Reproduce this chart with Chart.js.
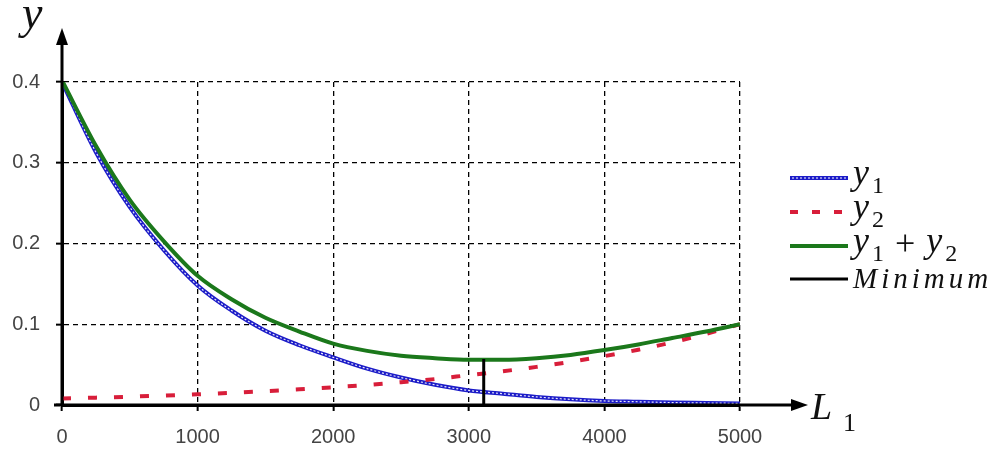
<!DOCTYPE html>
<html>
<head>
<meta charset="utf-8">
<script src="https://cdn.jsdelivr.net/npm/chart.js@4/dist/chart.umd.min.js"></script>
<style>
html,body{margin:0;padding:0;background:#fff;}
#wrap{width:1005px;height:452px;position:relative;}
</style>
</head>
<body>
<div id="wrap"><canvas id="c" width="1005" height="452"></canvas></div>
<script>
// ---- data ----
const L = [0,250,500,750,1000,1250,1500,1750,2000,2250,2500,2750,3000,3250,3500,3750,4000,4250,4500,4750,5000];
const y1 = [0.400,0.313,0.245,0.192,0.148,0.117,0.092,0.074,0.059,0.045,0.034,0.025,0.018,0.014,0.010,0.007,0.005,0.004,0.003,0.0025,0.002];
const y2 = [0.008,0.0091,0.0103,0.0117,0.0133,0.0150,0.0171,0.0194,0.0220,0.0249,0.0283,0.0321,0.0370,0.0418,0.0472,0.0535,0.0605,0.0684,0.0776,0.0881,0.100];
const ySum = [0.402,0.321,0.254,0.203,0.160,0.131,0.108,0.091,0.076,0.067,0.061,0.058,0.056,0.056,0.058,0.062,0.068,0.075,0.083,0.091,0.100];
const minL = [3110,3110];
const minY = [0,0.057];
const xTicks = [0,1000,2000,3000,4000,5000];
const yTicks = [0,0.1,0.2,0.3,0.4];
const legendMain = ['y','y','y','Minimum'];
const legendSubs = [['1'],['2'],['1','+','2'],[]];
const axisLabelX = ['L','1'];
const axisLabelY = 'y';

const pts = (xs, ys) => xs.map((x,i)=>({x:x,y:ys[i]}));

const BLUE = '#1c1cc8';
const RED = '#d81e3a';
const GREEN = '#1b781b';
const SERIF = '"Liberation Serif", "Times New Roman", serif';

const decorations = {
  id:'decorations',
  afterDraw(chart){
    const ctx = chart.ctx;
    const xs = chart.scales.x, ys = chart.scales.y;
    const ox = xs.getPixelForValue(0), oy = ys.getPixelForValue(0);
    ctx.save();
    ctx.strokeStyle = '#000'; ctx.fillStyle = '#000';
    ctx.lineWidth = 3; ctx.setLineDash([]);
    // y axis with arrow
    ctx.beginPath(); ctx.moveTo(ox, oy+1); ctx.lineTo(ox, 42); ctx.stroke();
    ctx.beginPath(); ctx.moveTo(ox, 28); ctx.lineTo(ox-6, 45); ctx.lineTo(ox+6, 45); ctx.closePath(); ctx.fill();
    // x axis with arrow
    ctx.beginPath(); ctx.moveTo(ox-8, oy); ctx.lineTo(794, oy); ctx.stroke();
    ctx.beginPath(); ctx.moveTo(808, oy); ctx.lineTo(791, oy-6); ctx.lineTo(791, oy+6); ctx.closePath(); ctx.fill();
    // axis labels
    ctx.textBaseline = 'alphabetic';
    ctx.textAlign = 'left';
    ctx.fillStyle = '#111';
    ctx.font = 'italic 46px ' + SERIF;
    ctx.fillText(axisLabelY, 22, 28);
    ctx.font = 'italic 38px ' + SERIF;
    ctx.fillText(axisLabelX[0], 811, 419);
    ctx.font = '26px ' + SERIF;
    ctx.fillText(axisLabelX[1], 843, 431);

    // legend
    const rows = [178, 212, 246, 279];
    const ds = chart.data.datasets.filter(d=>!d.hideLegend);
    ds.forEach((d,i)=>{
      const yy = rows[i];
      ctx.save();
      ctx.strokeStyle = d.borderColor;
      ctx.lineWidth = d.legendWidth || d.borderWidth;
      ctx.setLineDash(d.legendDash || []);
      ctx.beginPath(); ctx.moveTo(790, yy); ctx.lineTo(848, yy); ctx.stroke();
      if (d.legendOverlay){
        ctx.strokeStyle = '#fff'; ctx.lineWidth = 1.2; ctx.setLineDash([2,2]);
        ctx.beginPath(); ctx.moveTo(792, yy); ctx.lineTo(846, yy); ctx.stroke();
      }
      ctx.restore();
      let x = 853;
      const main = legendMain[i];
      const subs = legendSubs[i];
      ctx.fillStyle = '#111';
      if (main === 'Minimum'){
        ctx.font = 'italic 29px ' + SERIF;
        ctx.letterSpacing = '4px';
        ctx.fillText(main, x, yy+9);
        ctx.letterSpacing = '0px';
      } else {
        ctx.font = 'italic 36px ' + SERIF;
        ctx.fillText(main, x, yy+6);
        x += ctx.measureText(main).width + 3;
        ctx.font = '24px ' + SERIF;
        ctx.fillText(subs[0], x, yy+15);
        x += ctx.measureText(subs[0]).width;
        if (subs.length > 1){
          ctx.font = '36px ' + SERIF;
          x += 11;
          ctx.fillText(subs[1], x, yy+9);
          x += ctx.measureText(subs[1]).width + 11;
          ctx.font = 'italic 36px ' + SERIF;
          ctx.fillText(main, x, yy+6);
          x += ctx.measureText(main).width + 3;
          ctx.font = '24px ' + SERIF;
          ctx.fillText(subs[2], x, yy+15);
        }
      }
    });
    ctx.restore();
  }
};

const tickFont = {family:'"Liberation Sans", Arial, sans-serif', size:20};

new Chart(document.getElementById('c'), {
  type:'scatter',
  data:{
    datasets:[
      {label:'y1', data:pts(L,y1), showLine:true, borderColor:BLUE, borderWidth:4, pointRadius:0, cubicInterpolationMode:'monotone', legendWidth:4, legendOverlay:true, order:4},
      {label:'y1o', data:pts(L,y1), showLine:true, borderColor:'rgba(255,255,255,0.9)', borderWidth:1.2, borderDash:[2,2], pointRadius:0, cubicInterpolationMode:'monotone', hideLegend:true, order:3},
      {label:'y2', data:pts(L,y2), showLine:true, borderColor:RED, borderWidth:4, borderDash:[9,17], pointRadius:0, cubicInterpolationMode:'monotone', legendDash:[8,14], order:2},
      {label:'y1 + y2', data:pts(L,ySum), showLine:true, borderColor:GREEN, borderWidth:4, pointRadius:0, cubicInterpolationMode:'monotone', order:1},
      {label:'Minimum', data:pts(minL,minY), showLine:true, borderColor:'#000', borderWidth:3, pointRadius:0, order:0}
    ]
  },
  options:{
    responsive:false,
    animation:false,
    layout:{padding:{top:82, right:265, left:0, bottom:0}},
    plugins:{legend:{display:false}, tooltip:{enabled:false}},
    scales:{
      x:{
        type:'linear', min:0, max:5000,
        afterBuildTicks(s){ s.ticks = xTicks.map(v=>({value:v})); },
        grid:{color:'#000', lineWidth:1.3, tickBorderDash:[], tickLength:6, tickColor:'#000', tickWidth:2, drawOnChartArea:true},
        border:{display:true, color:'#000', width:3, dash:[5,4]},
        ticks:{color:'#444', font:tickFont, padding:14, maxRotation:0, callback:(v)=>String(v)},
        afterFit(s){ s.height = 47; }
      },
      y:{
        type:'linear', min:0, max:0.4,
        afterBuildTicks(s){ s.ticks = yTicks.map(v=>({value:v})); },
        grid:{color:'#000', lineWidth:1.3, tickBorderDash:[], tickLength:6, tickColor:'#000', tickWidth:2},
        border:{display:true, color:'#000', width:3, dash:[5,4]},
        ticks:{color:'#444', font:tickFont, padding:16,
          callback:(v)=> v===0 ? '0' : v.toFixed(1)},
        afterFit(s){ s.width = 62; }
      }
    }
  },
  plugins:[decorations]
});
</script>
</body>
</html>
